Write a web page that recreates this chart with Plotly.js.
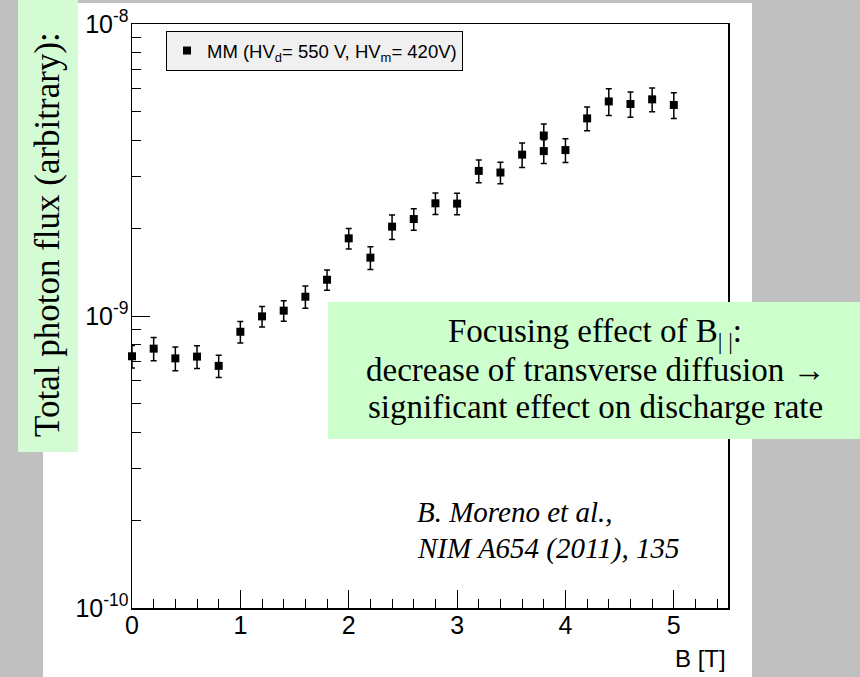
<!DOCTYPE html>
<html>
<head>
<meta charset="utf-8">
<script src="https://cdn.plot.ly/plotly-3.0.1.min.js"></script>
<style>html,body{margin:0;padding:0;background:#c0c0c0;} #chart{width:860px;height:677px;}</style>
</head>
<body>
<div id="chart"></div>
<script>
// Magnetic field B [T]
const fieldB = [0, 0.2, 0.4, 0.6, 0.8, 1.0, 1.2, 1.4, 1.6, 1.8, 2.0, 2.2, 2.4, 2.6, 2.8, 3.0, 3.2, 3.4, 3.6, 3.8, 3.8, 4.0, 4.2, 4.4, 4.6, 4.8, 5.0];
// Total photon flux (arbitrary)
const photonFlux = [7.28e-10, 7.73e-10, 7.16e-10, 7.26e-10, 6.75e-10, 8.83e-10, 9.97e-10, 1.043e-9, 1.164e-9, 1.331e-9, 1.845e-9, 1.584e-9, 2.023e-9, 2.148e-9, 2.432e-9, 2.426e-9, 3.14e-9, 3.10e-9, 3.57e-9, 3.67e-9, 4.15e-9, 3.70e-9, 4.75e-9, 5.43e-9, 5.32e-9, 5.52e-9, 5.28e-9];
// Error bars
const fluxError = [0.65e-10, 0.71e-10, 0.67e-10, 0.65e-10, 0.59e-10, 0.74e-10, 0.80e-10, 0.84e-10, 1.02e-10, 1.06e-10, 1.48e-10, 1.41e-10, 1.94e-10, 1.83e-10, 2.04e-10, 2.04e-10, 2.83e-10, 2.64e-10, 3.43e-10, 3.41e-10, 3.98e-10, 3.44e-10, 4.42e-10, 5.7e-10, 5.3e-10, 5.13e-10, 5.3e-10];
// Axis tick labels
const yTickVals = [1e-10, 1e-9, 1e-8];
const yTickText = ['10<sup>-10</sup>', '10<sup>-9</sup>', '10<sup>-8</sup>'];
const xTickVals = [0, 1, 2, 3, 4, 5];
const xTickText = ['0', '1', '2', '3', '4', '5'];
const seriesName = 'MM (HV<sub>d</sub>= 550 V, HV<sub>m</sub>= 420V)';
const yTitle = 'Total photon flux (arbitrary):';
const xTitle = 'B [T]';
const boxLines = ['Focusing effect of B<sub>| |</sub>:', 'decrease of transverse diffusion \u2192', 'significant effect on discharge rate'];
const citeLines = ['<i>B. Moreno et al.,</i>', '<i>NIM A654 (2011), 135</i>'];

// minor tick positions for log axis (layout)
const yMinor = [];
for (const dec of [1e-10, 1e-9]) { for (let k = 2; k <= 9; k++) yMinor.push(k * dec); }

const W = 860, H = 677, L = 132, R = 132, T = 24, B = 69;
const PW = W - L - R, PH = H - T - B;
const px = v => (v - L) / PW;
const py = v => (H - B - v) / PH;

const trace = {
  x: fieldB, y: photonFlux, type: 'scatter', mode: 'markers', name: seriesName,
  marker: {symbol: 'square', size: 8, color: '#000'},
  error_y: {type: 'data', array: fluxError, visible: true, color: '#000', thickness: 1.5, width: 3},
  cliponaxis: false
};

const axisFont = {family: 'Liberation Sans, Arial, sans-serif', size: 25, color: '#000'};
const serif = 'Liberation Serif, Times New Roman, serif';

const annotations = [
  {xref: 'paper', yref: 'paper', x: px(48), y: py(235), text: yTitle, textangle: -90, showarrow: false,
   xanchor: 'center', yanchor: 'middle', font: {family: serif, size: 35, color: '#000'}},
  {xref: 'paper', yref: 'paper', x: px(728), y: py(658), text: xTitle, showarrow: false,
   xanchor: 'right', yanchor: 'middle', font: {family: 'Liberation Sans, Arial, sans-serif', size: 24, color: '#000'}},
  {xref: 'paper', yref: 'paper', x: px(415), y: py(512), text: citeLines[0], showarrow: false,
   xanchor: 'left', yanchor: 'middle', font: {family: serif, size: 29, color: '#000'}},
  {xref: 'paper', yref: 'paper', x: px(415), y: py(548), text: citeLines[1], showarrow: false,
   xanchor: 'left', yanchor: 'middle', font: {family: serif, size: 29, color: '#000'}}
];
const lineY = [333, 370, 407];
boxLines.forEach((t, i) => annotations.push({xref: 'paper', yref: 'paper', x: px(595), y: py(lineY[i]), text: t,
  showarrow: false, xanchor: 'center', yanchor: 'middle', font: {family: serif, size: 33, color: '#000'}}));

const layout = {
  width: W, height: H,
  margin: {l: L, r: R, t: T, b: B, pad: 0},
  paper_bgcolor: '#c0c0c0', plot_bgcolor: '#ffffff',
  showlegend: true,
  legend: {x: px(166), y: py(31), xanchor: 'left', yanchor: 'top', bgcolor: '#f0f0f0', bordercolor: '#000', borderwidth: 1,
    font: {family: 'Liberation Sans, Arial, sans-serif', size: 18.5, color: '#000'}},
  xaxis: {type: 'linear', range: [0, 5.5], tickmode: 'array', tickvals: xTickVals, ticktext: xTickText,
    ticks: 'inside', ticklen: 18, tickwidth: 1, tickcolor: '#000', ticklabelstandoff: -6,
    minor: {dtick: 0.2, tick0: 0, ticks: 'inside', ticklen: 9, tickwidth: 1, tickcolor: '#000', showgrid: false},
    showline: true, mirror: true, linecolor: '#000', linewidth: 1.5, showgrid: false, zeroline: false,
    tickfont: axisFont},
  yaxis: {type: 'log', range: [-10, -8], tickmode: 'array', tickvals: yTickVals, ticktext: yTickText,
    ticks: 'inside', ticklen: 18, tickwidth: 1, tickcolor: '#000', ticklabelstandoff: -3,
    minor: {tickmode: 'array', tickvals: yMinor, ticks: 'inside', ticklen: 9, tickwidth: 1, tickcolor: '#000', showgrid: false},
    showline: true, mirror: true, linecolor: '#000', linewidth: 1.5, showgrid: false, zeroline: false,
    tickfont: axisFont},
  shapes: [
    {type: 'rect', xref: 'paper', yref: 'paper', x0: px(43), x1: px(752), y0: py(677), y1: py(3), fillcolor: '#ffffff', line: {width: 0}, layer: 'below'},
    {type: 'rect', xref: 'paper', yref: 'paper', x0: px(18), x1: px(78), y0: py(452), y1: py(0), fillcolor: '#d4fcd4', line: {width: 0}, layer: 'below'},
    {type: 'rect', xref: 'paper', yref: 'paper', x0: px(328), x1: px(860), y0: py(439), y1: py(302), fillcolor: '#ccffcc', line: {width: 0}, layer: 'above'}
  ],
  annotations: annotations
};

Plotly.newPlot('chart', [trace], layout, {displayModeBar: false, staticPlot: true});
</script>
</body>
</html>
